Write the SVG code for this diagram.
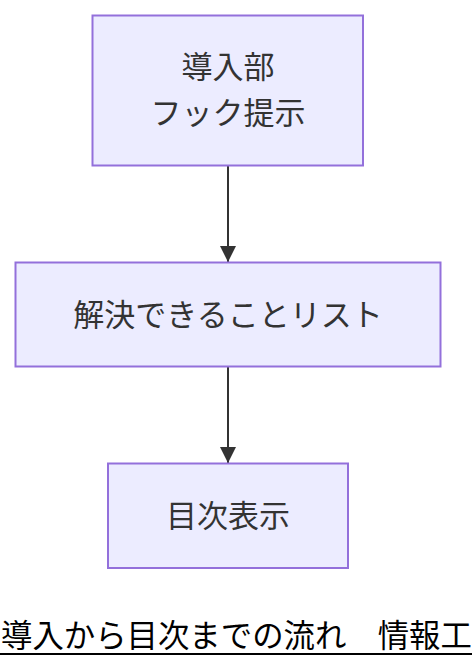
<svg xmlns="http://www.w3.org/2000/svg" width="472" height="668" viewBox="0 0 472 668">
<defs>
<style>
.node rect{fill:#ECECFF;stroke:#9370DB;stroke-width:2}
.node text{font-family:"Noto Sans CJK JP","Noto Sans",sans-serif;font-size:31px;fill:#333;text-anchor:middle;dominant-baseline:central}
.edge{stroke:#333;stroke-width:2;fill:none}
.title{font-family:"Noto Sans CJK JP","Noto Sans",sans-serif;font-size:31.4px;fill:#000}
</style>
<marker id="arrow" viewBox="0 0 16 16" refX="16" refY="8" markerWidth="16" markerHeight="16" markerUnits="userSpaceOnUse" orient="auto">
<path d="M0,0 L16,8 L0,16 z" fill="#333"/>
</marker>
</defs>
<rect width="472" height="668" fill="#fff"/>
<g id="connectors">
<line class="edge" x1="228" y1="166" x2="228" y2="262" marker-end="url(#arrow)"/>
<line class="edge" x1="228" y1="367" x2="228" y2="463" marker-end="url(#arrow)"/>
</g>
<g id="node-intro" class="node">
<rect x="92.5" y="15.5" width="270.5" height="150"/>
<text x="228" y="64">導入部</text>
<text x="228" y="110.5">フック提示</text>
</g>
<g id="node-list" class="node">
<rect x="15.5" y="262.5" width="425" height="104"/>
<text x="228" y="312.5">解決できることリスト</text>
</g>
<g id="node-toc" class="node">
<rect x="108" y="463.5" width="240" height="104.5"/>
<text x="228" y="513.5">目次表示</text>
</g>
<g id="caption">
<text class="title" x="1" y="647">導入から目次までの流れ　情報工</text>
<line x1="0" y1="654" x2="472" y2="654" stroke="#000" stroke-width="2"/>
</g>
</svg>
